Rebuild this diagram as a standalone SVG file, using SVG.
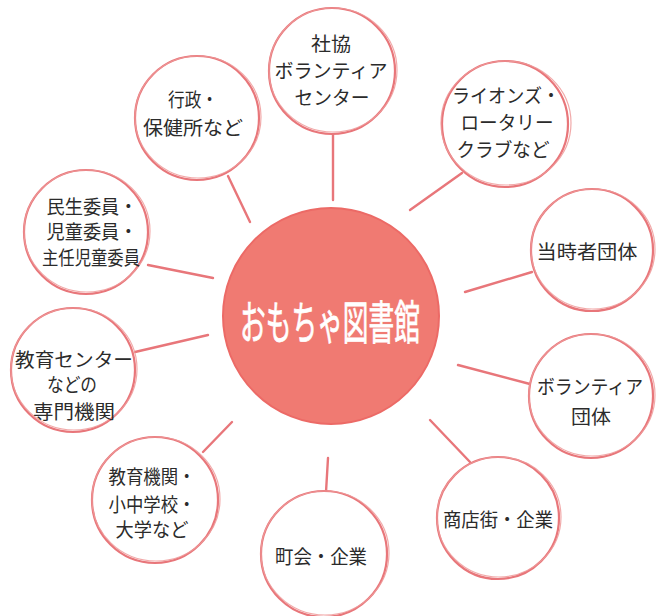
<svg xmlns="http://www.w3.org/2000/svg" width="656" height="616" viewBox="0 0 656 616">
<style>
.bg{fill:#ffffff}
.ring{fill:#ffffff;stroke:#E8767A;stroke-width:2.2}
.ring2{fill:none;stroke:#EE9A9A;stroke-width:1.2;opacity:0.85}
.link{stroke:#E8767A;stroke-width:2.4;fill:none;stroke-linecap:round}
.lbl{font-family:"Noto Sans CJK JP","Noto Sans",sans-serif;font-size:19px;fill:#2b2b2b;text-anchor:middle}
.hub{fill:#F07A72;stroke:#EC6A66;stroke-width:2}
.hubt{font-family:"Noto Sans CJK JP","Noto Sans",sans-serif;font-size:46px;fill:#ffffff;text-anchor:middle;stroke:#ffffff;stroke-width:0.8}
</style>
<rect class="bg" x="0" y="0" width="656" height="616"/>
<g id="connectors">
<line class="link" x1="333" y1="133" x2="333" y2="200"/>
<line class="link" x1="462" y1="173" x2="410" y2="210"/>
<line class="link" x1="228" y1="176" x2="250" y2="222"/>
<line class="link" x1="148" y1="265" x2="213" y2="278"/>
<line class="link" x1="532" y1="272" x2="465" y2="292"/>
<line class="link" x1="135" y1="352" x2="208" y2="335"/>
<line class="link" x1="530" y1="384" x2="458" y2="365"/>
<line class="link" x1="203" y1="452" x2="232" y2="422"/>
<line class="link" x1="326" y1="492" x2="328" y2="458"/>
<line class="link" x1="470" y1="462" x2="430" y2="420"/>
</g>
<g id="hub">
<circle class="hub" cx="331" cy="316" r="108"/>
<text class="hubt" x="330" y="339" textLength="180" lengthAdjust="spacingAndGlyphs">おもちゃ図書館</text>
</g>
<g id="n-shakyo">
<circle class="ring" cx="332" cy="71" r="63"/>
<ellipse class="ring2" cx="333" cy="70" rx="64" ry="62"/>
<text class="lbl" x="331" y="51" textLength="40" lengthAdjust="spacingAndGlyphs">社協</text>
<text class="lbl" x="331" y="78" textLength="113" lengthAdjust="spacingAndGlyphs">ボランティア</text>
<text class="lbl" x="332" y="105" textLength="75" lengthAdjust="spacingAndGlyphs">センター</text>
</g>
<g id="n-lions">
<circle class="ring" cx="505" cy="124" r="63"/>
<ellipse class="ring2" cx="506" cy="123" rx="65" ry="62"/>
<text class="lbl" x="506" y="103" textLength="108" lengthAdjust="spacingAndGlyphs">ライオンズ・</text>
<text class="lbl" x="507" y="130" textLength="93" lengthAdjust="spacingAndGlyphs">ロータリー</text>
<text class="lbl" x="503" y="157" textLength="93" lengthAdjust="spacingAndGlyphs">クラブなど</text>
</g>
<g id="n-gyosei">
<circle class="ring" cx="197" cy="118" r="62"/>
<ellipse class="ring2" cx="198" cy="117" rx="63" ry="61"/>
<text class="lbl" x="193" y="107" textLength="50" lengthAdjust="spacingAndGlyphs">行政・</text>
<text class="lbl" x="193" y="135" textLength="100" lengthAdjust="spacingAndGlyphs">保健所など</text>
</g>
<g id="n-minsei">
<circle class="ring" cx="86" cy="232" r="62"/>
<ellipse class="ring2" cx="87" cy="231" rx="63" ry="61"/>
<text class="lbl" x="92" y="214" textLength="91" lengthAdjust="spacingAndGlyphs">民生委員・</text>
<text class="lbl" x="92" y="239" textLength="91" lengthAdjust="spacingAndGlyphs">児童委員・</text>
<text class="lbl" x="91" y="265" textLength="98" lengthAdjust="spacingAndGlyphs">主任児童委員</text>
</g>
<g id="n-toji">
<circle class="ring" cx="592" cy="250" r="61"/>
<ellipse class="ring2" cx="593" cy="249" rx="62" ry="60"/>
<text class="lbl" x="587" y="259" textLength="101" lengthAdjust="spacingAndGlyphs">当時者団体</text>
</g>
<g id="n-kyoiku-center">
<circle class="ring" cx="73" cy="370" r="62"/>
<ellipse class="ring2" cx="74" cy="369" rx="63" ry="61"/>
<text class="lbl" x="74" y="367" textLength="118" lengthAdjust="spacingAndGlyphs">教育センター</text>
<text class="lbl" x="72" y="392" textLength="50" lengthAdjust="spacingAndGlyphs">などの</text>
<text class="lbl" x="74" y="419" textLength="82" lengthAdjust="spacingAndGlyphs">専門機関</text>
</g>
<g id="n-volunteer">
<circle class="ring" cx="591" cy="396" r="62"/>
<ellipse class="ring2" cx="592" cy="395" rx="63" ry="61"/>
<text class="lbl" x="590" y="394" textLength="106" lengthAdjust="spacingAndGlyphs">ボランティア</text>
<text class="lbl" x="591" y="424" textLength="40" lengthAdjust="spacingAndGlyphs">団体</text>
</g>
<g id="n-kyoiku-kikan">
<circle class="ring" cx="155" cy="500" r="63"/>
<ellipse class="ring2" cx="156" cy="499" rx="64" ry="62"/>
<text class="lbl" x="152" y="484" textLength="87" lengthAdjust="spacingAndGlyphs">教育機関・</text>
<text class="lbl" x="152" y="512" textLength="87" lengthAdjust="spacingAndGlyphs">小中学校・</text>
<text class="lbl" x="152" y="537" textLength="73" lengthAdjust="spacingAndGlyphs">大学など</text>
</g>
<g id="n-chokai">
<circle class="ring" cx="324" cy="554" r="63"/>
<ellipse class="ring2" cx="325" cy="553" rx="64" ry="62"/>
<text class="lbl" x="321" y="564" textLength="92" lengthAdjust="spacingAndGlyphs">町会・企業</text>
</g>
<g id="n-shotengai">
<circle class="ring" cx="498" cy="518" r="61"/>
<ellipse class="ring2" cx="499" cy="517" rx="62" ry="60"/>
<text class="lbl" x="498" y="527" textLength="110" lengthAdjust="spacingAndGlyphs">商店街・企業</text>
</g>
</svg>
